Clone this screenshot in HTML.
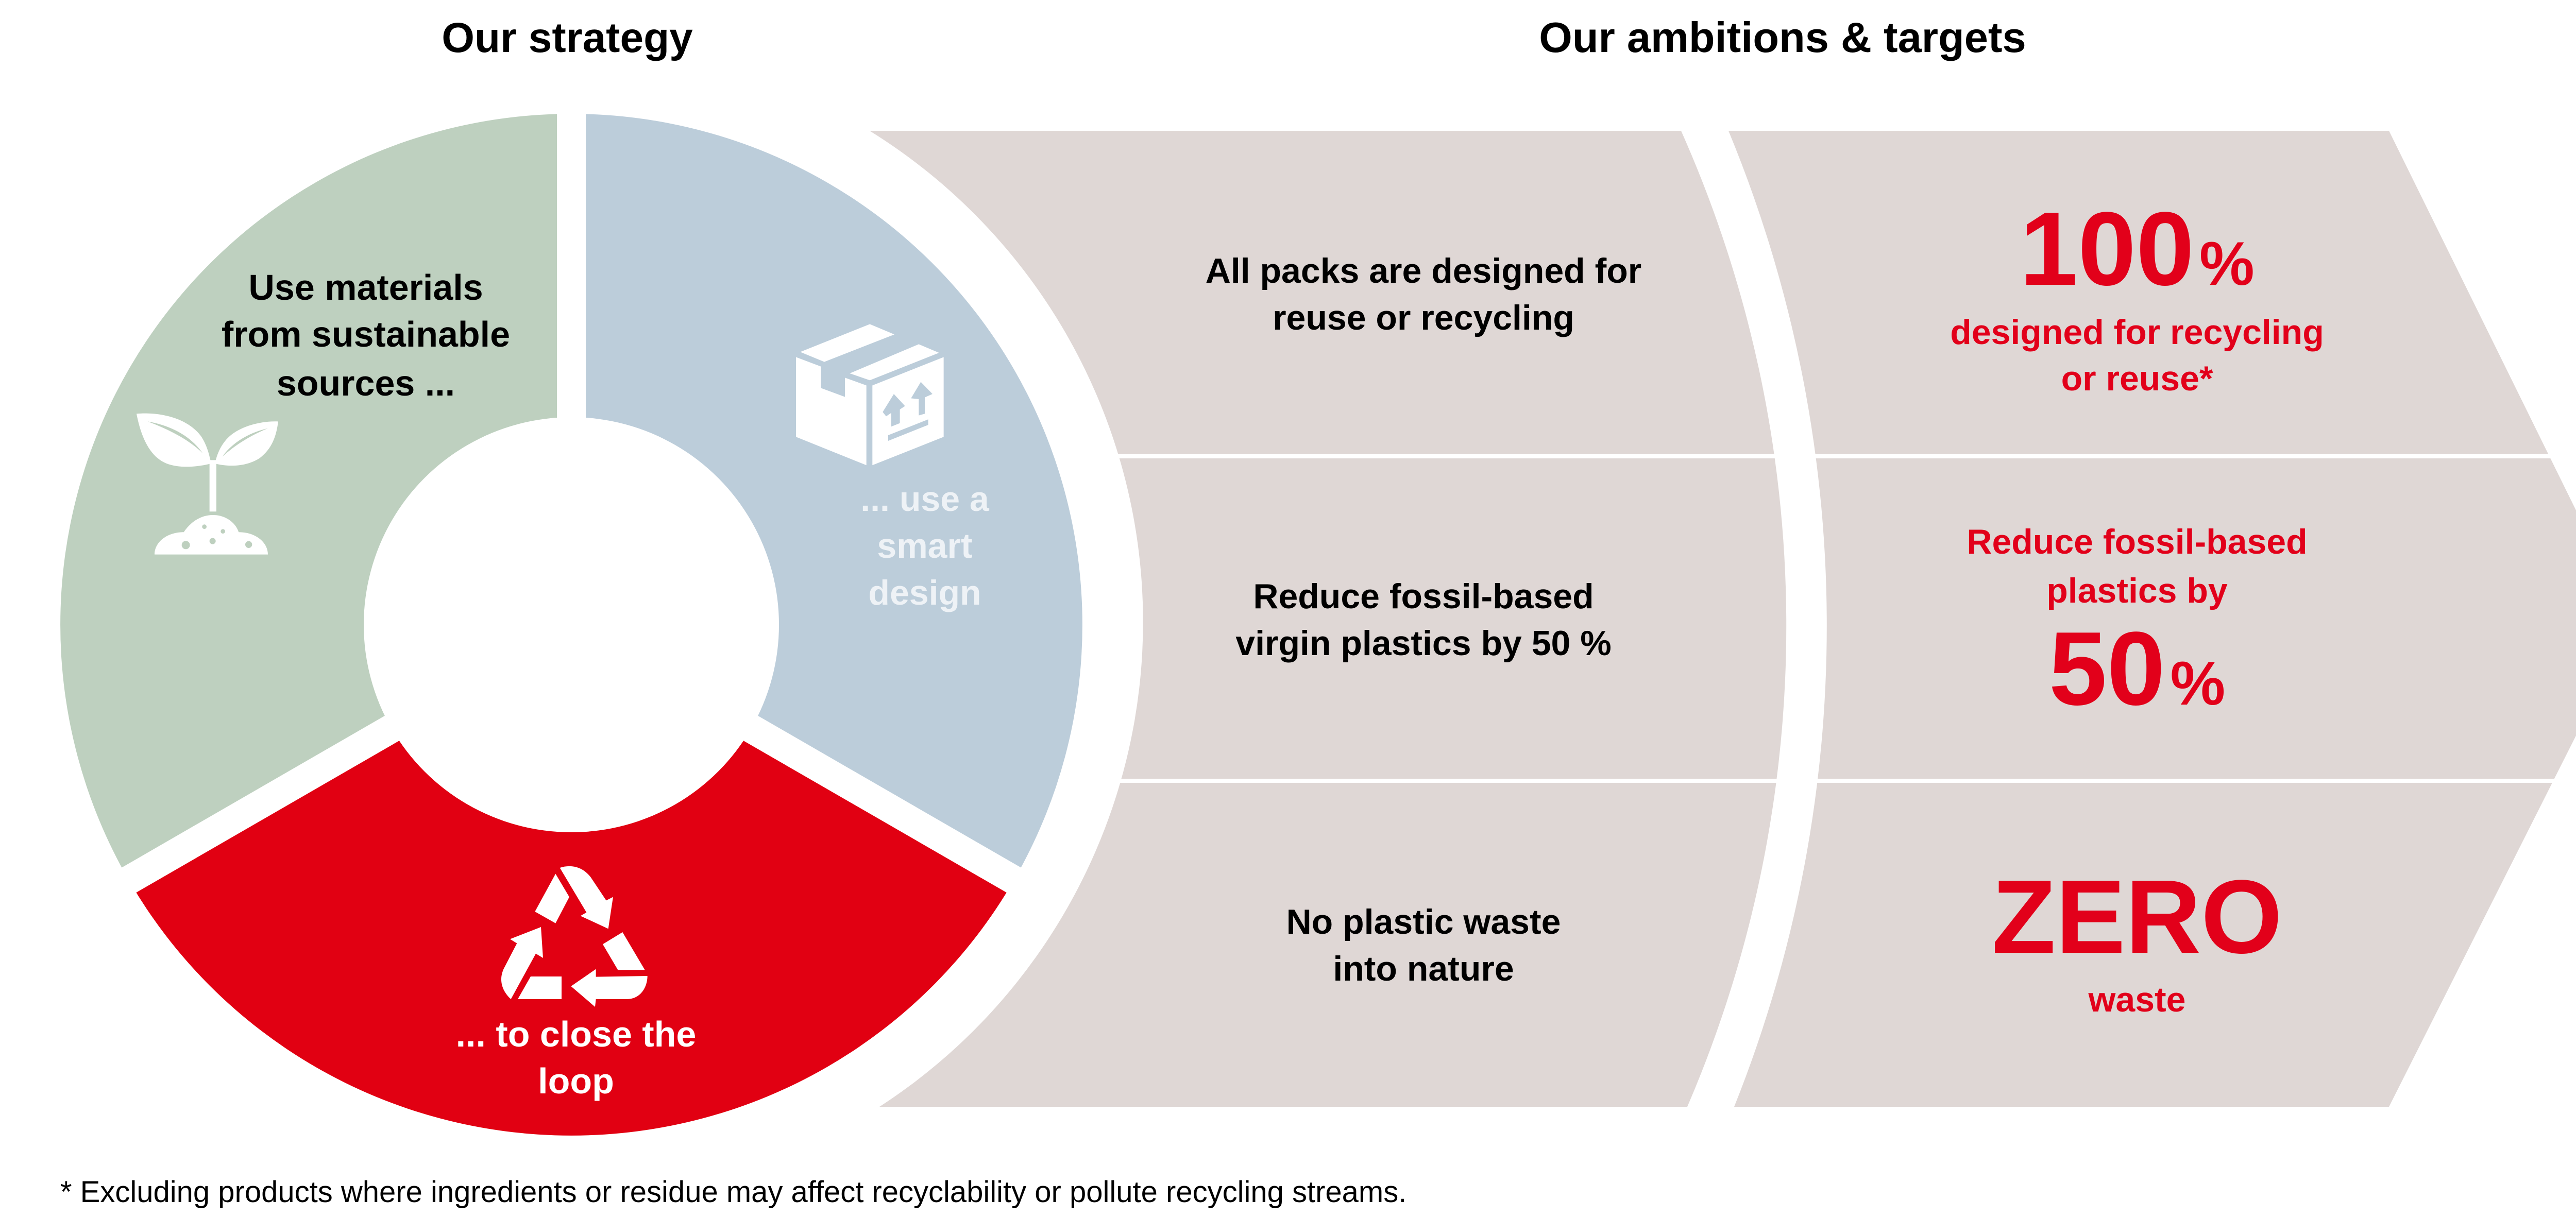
<!DOCTYPE html>
<html><head><meta charset="utf-8"><style>
html,body{margin:0;padding:0;background:#fff;}
svg{display:block;}
text{font-family:"Liberation Sans",sans-serif;font-weight:bold;}
</style></head><body>
<svg width="5109" height="2363" viewBox="0 0 5109 2363" xmlns="http://www.w3.org/2000/svg">
<rect width="5109" height="2363" fill="#fff"/>
<!-- titles -->
<text x="1101" y="101" font-size="82" text-anchor="middle" fill="#000">Our strategy</text>
<text x="3460" y="101" font-size="83" text-anchor="middle" fill="#000">Our ambitions &amp; targets</text>

<!-- panels -->
<path d="M1688 254 L3263 254 A2364 2364 0 0 1 3275 2149 L1707 2149 A1122 1122 0 0 0 1688 254 Z" fill="#dfd7d5"/>
<path d="M3355 254 L4637 254 L5109 1212 L4637 2149 L3366 2149 A2516 2516 0 0 0 3355 254 Z" fill="#dfd7d5"/>
<rect x="2000" y="882" width="3109" height="8" fill="#fff"/>
<rect x="2000" y="1512" width="3109" height="8" fill="#fff"/>

<!-- donut -->
<path d="M250 1709 A992 992 0 0 1 1109 221 L1109 810 A403 403 0 0 0 760 1414.5 Z" fill="#bed0bf"/>
<path d="M1109 221 A992 992 0 0 1 1968 1709 L1458 1414.5 A403 403 0 0 0 1109 810 Z" fill="#bccdda"/>
<path d="M1968 1709 A992 992 0 0 1 250 1709 L760 1414.5 A403 403 0 0 0 1458 1414.5 Z" fill="#e10012"/>
<g stroke="#fff" stroke-width="56">
<line x1="1109" y1="1213" x2="1109" y2="180"/>
<line x1="1109" y1="1213" x2="2020" y2="1739"/>
<line x1="1109" y1="1213" x2="198" y2="1739"/>
</g>

<!-- plant icon -->
<g transform="translate(250,780) scale(0.3333)" fill="#fff">
<path d="M45 70 C150 60 330 80 420 200 C460 260 470 320 480 360 C400 380 300 390 220 360 C120 320 70 200 45 70 Z"/>
<path d="M870 115 C760 110 620 150 560 230 C520 280 510 330 500 360 C580 380 680 380 760 330 C840 270 860 190 870 115 Z"/>
<path d="M470 340 L510 340 L510 640 L470 640 Z"/>
<path d="M150 890 C150 820 220 760 320 760 C360 700 420 660 490 660 C560 660 620 700 640 760 C740 760 810 820 810 890 Z"/>
</g>
<g transform="translate(250,780) scale(0.3333)" fill="#bed0bf">
<path d="M110 115 C250 140 360 200 430 300 C350 220 230 160 110 115 Z"/>
<path d="M810 155 C700 180 600 240 545 320 C610 260 700 200 810 155 Z"/>
<circle cx="440" cy="728" r="13"/><circle cx="548" cy="755" r="13"/><circle cx="488" cy="812" r="18"/><circle cx="332" cy="835" r="24"/><circle cx="698" cy="832" r="20"/>
</g>

<!-- box icon -->
<g transform="translate(1500,600) scale(0.3333)" fill="#fff">
<polygon points="160,250 565,88 708,148 300,308"/>
<polygon points="448,375 850,205 968,255 565,415"/>
<polygon points="135,280 280,335 280,460 420,512 420,400 545,445 545,910 135,745"/>
<polygon points="580,445 995,280 995,745 580,910"/>
</g>
<g transform="translate(1500,600) scale(0.3333)" fill="#bccdda">
<polygon points="640,600 705,495 770,565 740,585 740,665 690,685 690,605 660,625"/>
<polygon points="805,520 862,425 930,495 885,515 885,610 850,620 850,525"/>
<polygon points="672,735 905,643 905,675 672,768"/>
</g>

<!-- recycle icon -->
<g transform="translate(950,1650) scale(0.3333)" fill="#fff">
<polygon points="265,360 385,140 465,275 385,428"/>
<path d="M410 105 C470 85 540 95 590 160 L680 295 L720 275 L692 460 L530 385 L565 365 L410 105 Z"/>
<polygon points="660,550 775,480 905,700 748,700"/>
<path d="M920 735 C920 800 880 870 800 870 L620 870 L615 915 L475 795 L620 695 L620 740 Z"/>
<polygon points="165,870 240,738 420,738 420,870"/>
<path d="M125 870 C70 820 50 750 90 680 L160 545 L120 520 L300 450 L312 630 L270 605 L125 870 Z"/>
</g>

<!-- donut texts -->
<g font-size="70" text-anchor="middle" fill="#000">
<text x="710" y="582">Use materials</text>
<text x="710" y="673">from sustainable</text>
<text x="710" y="768">sources ...</text>
</g>
<g font-size="68" text-anchor="middle" fill="#eef2f6">
<text x="1795" y="992">... use a</text>
<text x="1795" y="1083">smart</text>
<text x="1795" y="1174">design</text>
</g>
<g font-size="70" text-anchor="middle" fill="#fff">
<text x="1118" y="2032">... to close the</text>
<text x="1118" y="2123">loop</text>
</g>

<!-- left column texts -->
<g font-size="68" text-anchor="middle" fill="#000">
<text x="2763" y="549">All packs are designed for</text>
<text x="2763" y="640">reuse or recycling</text>
<text x="2763" y="1181">Reduce fossil-based</text>
<text x="2763" y="1272">virgin plastics by 50 %</text>
<text x="2763" y="1813">No plastic waste</text>
<text x="2763" y="1904">into nature</text>
</g>

<!-- right column texts -->
<g fill="#e2001a" text-anchor="middle">
<text x="4148" y="553" font-size="203"><tspan>100</tspan><tspan font-size="120" dx="10">%</tspan></text>
<text x="4148" y="668" font-size="68">designed for recycling</text>
<text x="4148" y="758" font-size="68">or reuse*</text>
<text x="4148" y="1075" font-size="68">Reduce fossil-based</text>
<text x="4148" y="1170" font-size="68">plastics by</text>
<text x="4148" y="1368" font-size="203"><tspan>50</tspan><tspan font-size="120" dx="10">%</tspan></text>
<text x="4148" y="1850" font-size="203">ZERO</text>
<text x="4148" y="1964" font-size="68">waste</text>
</g>

<!-- footnote -->
<text x="117" y="2334" font-size="58" style="font-weight:normal" fill="#000">*  Excluding products where ingredients or residue may affect recyclability or pollute recycling streams.</text>
</svg>
</body></html>
